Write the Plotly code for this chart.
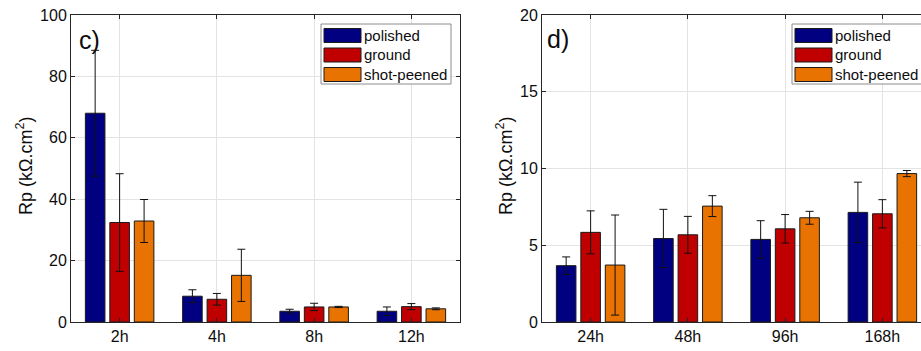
import plotly.graph_objects as go

# ---------------- data ----------------
cats_c = ["2h", "4h", "8h", "12h"]
polished_c = [68.0, 8.4, 3.5, 3.5]
polished_c_err = [20.5, 2.1, 0.65, 1.4]
ground_c = [32.4, 7.4, 4.9, 5.0]
ground_c_err = [15.9, 1.9, 1.2, 1.0]
shot_c = [32.9, 15.2, 4.9, 4.3]
shot_c_err = [7.0, 8.5, 0.2, 0.3]

cats_d = ["24h", "48h", "96h", "168h"]
polished_d = [3.67, 5.44, 5.38, 7.14]
polished_d_err = [0.57, 1.9, 1.22, 1.97]
ground_d = [5.84, 5.68, 6.07, 7.05]
ground_d_err = [1.4, 1.2, 0.93, 0.92]
shot_d = [3.71, 7.55, 6.79, 9.67]
shot_d_err = [3.26, 0.68, 0.42, 0.2]

series_names = ["polished", "ground", "shot-peened"]
colors = ["#000080", "#c00000", "#e87300"]

yticks_c = [0, 20, 40, 60, 80, 100]
yticks_d = [0, 5, 10, 15, 20]

# ---------------- layout helpers ----------------
W, H = 921, 351
FONT = "Liberation Sans, Arial, Helvetica, sans-serif"
TXT = "#262626"

def px(x):
    return x / W

def py(y):
    return 1 - y / H

# plot area pixel geometry
top_px, bot_px = 15, 322
c_left, c_right = 71, 460
d_left = 542
cat_w = (c_right - c_left) / 4.0
d_range_end = -0.5 + (W - d_left) / cat_w

fig = go.Figure()

def add_panel(cats, vals, errs, xa, ya):
    for name, v, e, col in zip(series_names, vals, errs, colors):
        fig.add_trace(go.Bar(
            x=cats, y=v, name=name, xaxis=xa, yaxis=ya,
            marker=dict(color=col, line=dict(color="#1a1a1a", width=1)),
            error_y=dict(type="data", array=e, visible=True,
                         color="#111111", thickness=1, width=4),
            showlegend=False,
        ))

add_panel(cats_c, [polished_c, ground_c, shot_c],
          [polished_c_err, ground_c_err, shot_c_err], "x", "y")
add_panel(cats_d, [polished_d, ground_d, shot_d],
          [polished_d_err, ground_d_err, shot_d_err], "x2", "y2")

ydom = [py(bot_px), py(top_px)]
axis_common = dict(
    showline=True, linecolor=TXT, linewidth=1,
    showgrid=True, gridcolor="#e3e3e3", gridwidth=1,
    ticks="inside", ticklen=4, tickcolor=TXT,
    tickfont=dict(family=FONT, size=16, color="#0d0d0d"),
    zeroline=False, fixedrange=True, automargin=False,
)

fig.update_layout(
    width=W, height=H, autosize=False,
    margin=dict(l=0, r=0, t=0, b=0, pad=0, autoexpand=False),
    paper_bgcolor="white", plot_bgcolor="white",
    barmode="group", bargap=0.245, bargroupgap=0.2,
    showlegend=False,
    font=dict(family=FONT, color=TXT),
    xaxis=dict(domain=[px(c_left), px(c_right)], anchor="y", type="category",
               range=[-0.5, 3.5], mirror="ticks", **axis_common),
    yaxis=dict(domain=ydom, anchor="x", range=[0, 100], tickvals=yticks_c,
               mirror="ticks", **axis_common),
    xaxis2=dict(domain=[px(d_left), 1.0], anchor="y2", type="category",
                range=[-0.5, d_range_end], mirror="ticks", **axis_common),
    yaxis2=dict(domain=ydom, anchor="x2", range=[0, 20], tickvals=yticks_d,
                mirror=False, **axis_common),
)

# y-axis titles and panel labels
ytitle = "Rp (kΩ.cm<sup>2</sup>)"
annotations = [
    dict(x=px(25), y=py(166), xref="paper", yref="paper", text=ytitle,
         textangle=-90, showarrow=False, font=dict(family=FONT, size=18, color="#0d0d0d"),
         xanchor="center", yanchor="middle"),
    dict(x=px(505), y=py(166), xref="paper", yref="paper", text=ytitle,
         textangle=-90, showarrow=False, font=dict(family=FONT, size=18, color="#0d0d0d"),
         xanchor="center", yanchor="middle"),
    dict(x=px(77), y=py(40), xref="paper", yref="paper", text="c)",
         showarrow=False, font=dict(family=FONT, size=25, color="#0d0d0d"),
         xanchor="left", yanchor="middle"),
    dict(x=px(545), y=py(39), xref="paper", yref="paper", text="d)",
         showarrow=False, font=dict(family=FONT, size=25, color="#0d0d0d"),
         xanchor="left", yanchor="middle"),
]

# custom legends (wide MATLAB-style swatches)
shapes = []
for plot_right in (c_right, d_left + 4 * cat_w):
    bx0, bx1 = plot_right - 139, plot_right - 9
    shapes.append(dict(type="rect", xref="paper", yref="paper",
                       x0=px(bx0), x1=px(bx1), y0=py(84), y1=py(24),
                       line=dict(color="#8c8c8c", width=1), fillcolor="white",
                       layer="above"))
    for i, (name, col) in enumerate(zip(series_names, colors)):
        cy = 35.5 + i * 19.5
        shapes.append(dict(type="rect", xref="paper", yref="paper",
                           x0=px(bx0 + 3), x1=px(bx0 + 40),
                           y0=py(cy + 7), y1=py(cy - 7),
                           line=dict(color="#1a1a1a", width=1), fillcolor=col,
                           layer="above"))
        annotations.append(dict(x=px(bx0 + 41), y=py(cy), xref="paper", yref="paper",
                                text=name, showarrow=False, xanchor="left",
                                yanchor="middle",
                                font=dict(family=FONT, size=15, color="#0d0d0d")))

fig.update_layout(annotations=annotations, shapes=shapes)

fig.write_html(
    "out.html",
    config={"displayModeBar": False},
    post_script="document.body.style.margin='0';document.body.style.overflow='hidden';",
)
